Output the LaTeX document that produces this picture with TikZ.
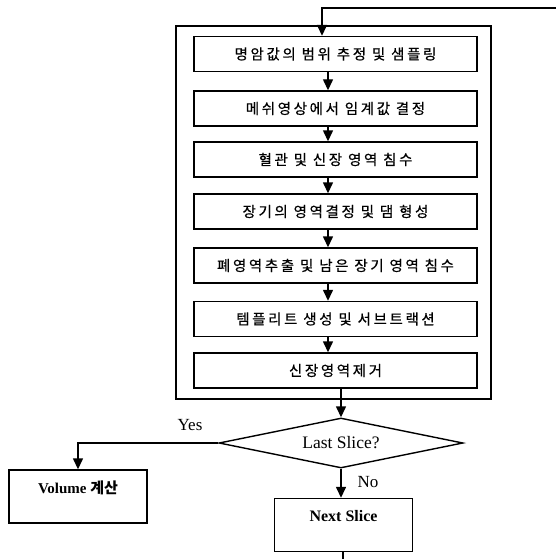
\documentclass[tikz,border=0pt]{standalone}
\usepackage{fontspec}
\setmainfont{Liberation Serif}
\newfontfamily\kr{Noto Sans CJK KR}[LetterSpace=18,FakeBold=0.6]
\newfontfamily\krb{Noto Sans CJK KR}
\usetikzlibrary{arrows.meta,shapes.geometric}

\begin{document}
\begin{tikzpicture}[x=1pt,y=-1pt,line width=1.4pt,
  stepbox/.style={draw,minimum width=283,minimum height=35,inner sep=0pt,
    font=\kr\fontsize{14.5}{16}\selectfont},
  endbox/.style={draw,minimum width=138,minimum height=53,inner sep=0pt,
    text height=11pt},
  arr/.style={-{Triangle[length=11pt,width=10pt]}},
  lbl/.style={font=\fontsize{17}{20}\selectfont,inner sep=0pt}]
\useasboundingbox (0,0) rectangle (555,559);

% outer frame around the per-slice steps
\node[draw,minimum width=315,minimum height=373,inner sep=0pt] (outer) at (333.5,212.5) {};

% processing steps
\node[stepbox] (b1) at (335.5,54)    {명암값의 범위 추정 및 샘플링};
\node[stepbox] (b2) at (335.5,108.5) {메쉬영상에서 임계값 결정};
\node[stepbox] (b3) at (335.5,159.5) {혈관 및 신장 영역 침수};
\node[stepbox] (b4) at (335.5,211.5) {장기의 영역결정 및 댐 형성};
\node[stepbox] (b5) at (335.5,265.5) {폐영역추출 및 남은 장기 영역 침수};
\node[stepbox] (b6) at (335.5,319)   {템플리트 생성 및 서브트랙션};
\node[stepbox] (b7) at (335.5,370.5) {신장영역제거};

% decision and end boxes
\node[draw,diamond,aspect=4.88,minimum width=244,minimum height=50,inner sep=0pt,
  font=\fontsize{17.5}{20}\selectfont] (dm) at (341,443) {Last Slice?};
\node[endbox,text depth=17pt,font=\bfseries\fontsize{15}{18}\selectfont] (vol) at (78,496.5)
  {Volume {\krb 계산}};
\node[endbox,text depth=18pt,font=\bfseries\fontsize{16}{19}\selectfont] (ns) at (343.5,525)
  {Next Slice};

% branch labels
\node[lbl] (yes) at (190,425) {Yes};
\node[lbl] (no) at (368,482) {No};

% connector helpers
\coordinate (ax) at (328,0);
\coordinate (tr) at (556,8);
\coordinate (tl) at (322,8);
\coordinate (bt) at (343,560);

% loop back into the first step
\draw[arr] (tr) -- (tl) -- (b1.north -| tl);
% step chain
\draw[arr] (b1.south -| ax) -- (b2.north -| ax);
\draw[arr] (b2.south -| ax) -- (b3.north -| ax);
\draw[arr] (b3.south -| ax) -- (b4.north -| ax);
\draw[arr] (b4.south -| ax) -- (b5.north -| ax);
\draw[arr] (b5.south -| ax) -- (b6.north -| ax);
\draw[arr] (b6.south -| ax) -- (b7.north -| ax);
\draw[arr] (b7.south -| dm.north) -- (dm.north);
% decision branches
\draw[arr] (dm.west) -| (vol.north);
\draw[arr] (dm.south) -- (dm.south |- ns.north);
\draw (ns.south -| bt) -- (bt);
\end{tikzpicture}
\end{document}
